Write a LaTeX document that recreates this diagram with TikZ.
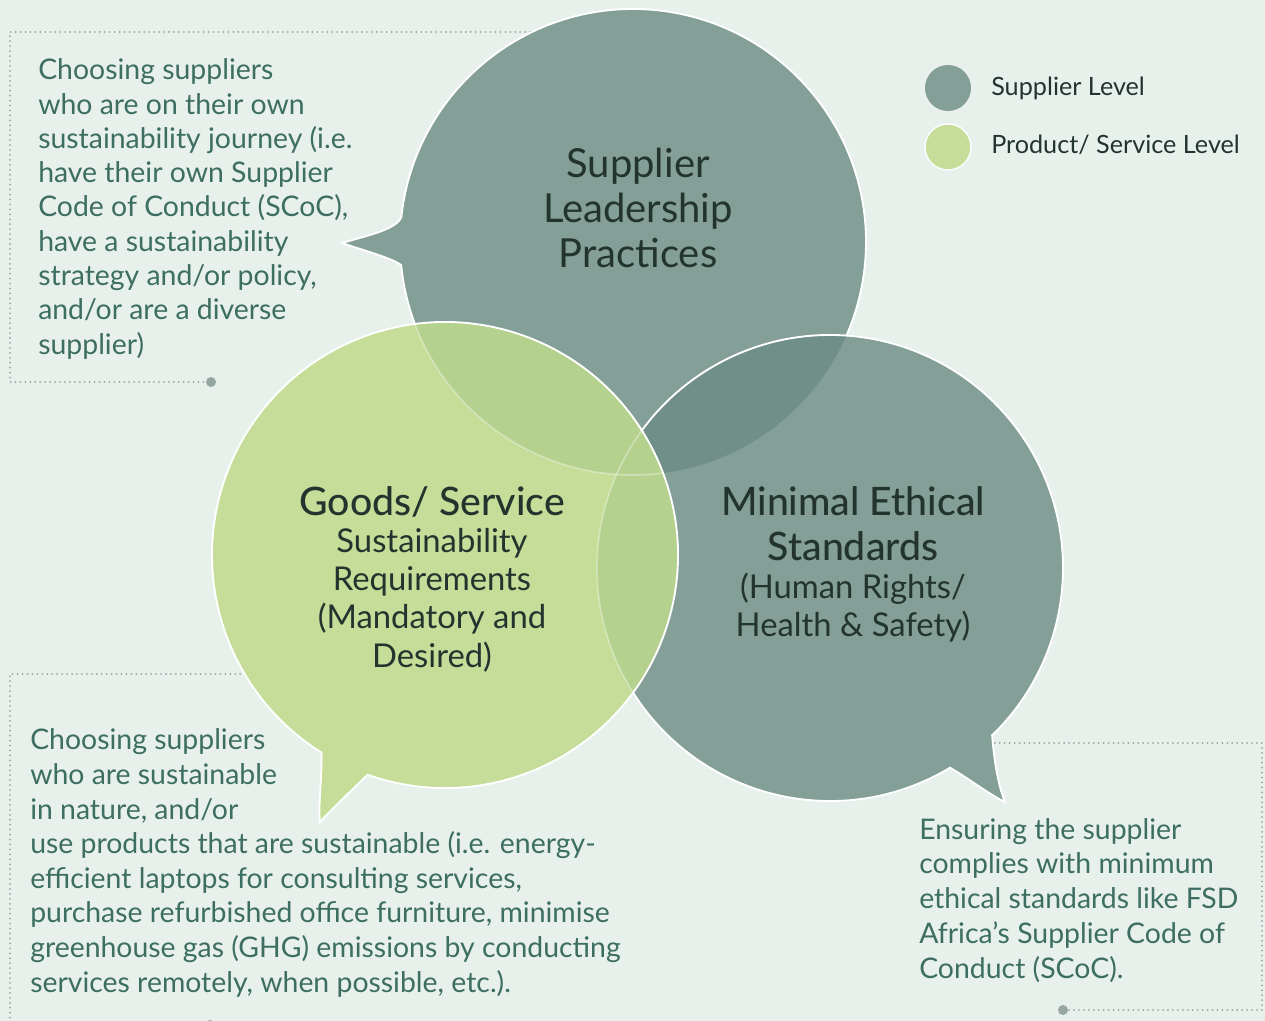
\documentclass[tikz,border=0pt]{standalone}
\usepackage{fontspec}
\setmainfont{Lato}
\newfontfamily\medfont{Lato Medium}
\definecolor{bgc}{RGB}{232,240,235}
\definecolor{supc}{RGB}{132,159,151}
\definecolor{supd}{RGB}{112,143,136}
\definecolor{grc}{RGB}{197,221,152}
\definecolor{grd}{RGB}{181,209,142}
\definecolor{tealtext}{RGB}{61,110,98}
\definecolor{darktext}{RGB}{35,52,47}
\definecolor{dotc}{RGB}{150,166,160}
\tikzset{
  desc/.style={anchor=base west,align=left,inner sep=0pt,text=tealtext,font=\fontsize{21.3}{#1}\selectfont},
  titletxt/.style={anchor=base,align=center,inner sep=0pt,text=darktext,font=\medfont\fontsize{29.4}{#1}\selectfont},
  toptitle/.style={anchor=base,align=center,inner sep=0pt,text=darktext,font=\fontsize{30}{33.4}\selectfont},
  subtxt/.style={anchor=base,align=center,inner sep=0pt,text=darktext,font=\fontsize{24.6}{#1}\selectfont},
  legtxt/.style={anchor=base west,inner sep=0pt,text=darktext,font=\fontsize{18.9}{22}\selectfont},
  legdot/.style={circle,inner sep=0pt,minimum size=34.5pt,fill=#1},
  dotnode/.style={circle,inner sep=0pt,minimum size=7.5pt,fill=dotc},
  dotline/.style={draw=dotc,line width=1.5pt,dash pattern=on 0.01pt off 3.7pt,line cap=round},
  outline/.style={draw=white,line width=1.4pt},
}
\begin{document}
\begin{tikzpicture}[x=0.75pt,y=-0.75pt]
\useasboundingbox (0,0) rectangle (1265,1021);
\fill[bgc] (0,0) rectangle (1265,1021);

% dotted frames
\node[dotnode] (d1) at (211,382) {};
\node[dotnode] (d2) at (210,1025) {};
\node[dotnode] (d3) at (1063,1010) {};
\draw[dotline] (540,32) -- (10,32) -- (10,382) -- (d1.center);
\draw[dotline] (260,674) -- (10,674) -- (10,1025) -- (d2.center);
\draw[dotline] (975,743) -- (1262,743) -- (1262,1010) -- (d3.center);

% top bubble
\fill[supc] ([shift={(633,242)}]186.1:233) coordinate (tu)
  arc[start angle=186.1,end angle=534.3,radius=233] coordinate (tl)
  .. controls (392,258) and (362,250) .. (342,243)
  .. controls (365,236) and (396,230) .. (tu) -- cycle;
\draw[outline] (tu)
  arc[start angle=186.1,end angle=534.3,radius=233]
  .. controls (392,258) and (362,250) .. (342,243)
  .. controls (365,236) and (396,230) .. (tu) -- cycle;

% right bubble
\fill[supc] ([shift={(830,568)}]59:233) coordinate (rl)
  arc[start angle=59,end angle=405.9,radius=233] coordinate (ru)
  .. controls (994,760) and (998,785) .. (1005,802)
  .. controls (990,795) and (968,778) .. (rl) -- cycle;
\begin{scope}
  \clip (633,242) circle[radius=233];
  \fill[supd] (830,568) circle[radius=233];
\end{scope}
\draw[outline] (rl)
  arc[start angle=59,end angle=405.9,radius=233]
  .. controls (994,760) and (998,785) .. (1005,802)
  .. controls (990,795) and (968,778) .. (rl) -- cycle;

% green bubble
\fill[grc] ([shift={(445,555)}]109.4:233) coordinate (gr)
  arc[start angle=109.4,end angle=-238,radius=233] coordinate (gl)
  .. controls (322,780) and (318,805) .. (320,822)
  .. controls (335,806) and (352,790) .. (gr) -- cycle;
\begin{scope}
  \clip (445,555) circle[radius=233];
  \fill[grd] (633,242) circle[radius=233];
  \fill[grd] (830,568) circle[radius=233];
  \draw[white,opacity=0.35,line width=1.2pt] (633,242) circle[radius=233];
  \draw[white,opacity=0.35,line width=1.2pt] (830,568) circle[radius=233];
\end{scope}
\draw[outline] (gr)
  arc[start angle=109.4,end angle=-238,radius=233]
  .. controls (322,780) and (318,805) .. (320,822)
  .. controls (335,806) and (352,790) .. (gr) -- cycle;

% legend
\node[legdot=supc] (l1) at (948,88) {};
\node[legdot=grc,draw=white,line width=1pt] (l2) at (948,147) {};
\node[legtxt] (lt1) at (991,95) {Supplier Level};
\node[legtxt] (lt2) at (991,153) {Product/ Service Level};

% circle titles (anchor base = last line)
\node[toptitle] (t1) at (638,267) {Supplier\\Leadership\\Practices};
\node[titletxt=33] (t2) at (432,515) {Goods/ Service};
\node[subtxt=28.7] (s2) at (432,667) {Sustainability\\Requirements\\(Mandatory and\\Desired)};
\node[titletxt=33.75] (t3) at (853,560) {Minimal Ethical\\Standards};
\node[subtxt=28.3] (s3) at (853,636) {(Human Rights/\\Health \& Safety)};

% descriptions (anchor base = last line)
\node[desc=25.7] (c1) at (38,354) {Choosing suppliers\\who are on their own\\sustainability journey (i.e.\\have their own Supplier\\Code of Conduct (SCoC),\\have a sustainability\\strategy and/or policy,\\and/or are a diverse\\supplier)};
\node[desc=25.95] (c2) at (30,992) {Choosing suppliers\\who are sustainable\\in nature, and/or\\use products that are sustainable (i.e. energy-\\efficient laptops for consulting services,\\purchase refurbished office furniture, minimise\\greenhouse gas (GHG) emissions by conducting\\services remotely, when possible, etc.).};
\node[desc=26.05] (c3) at (919,978) {Ensuring the supplier\\complies with minimum\\ethical standards like FSD\\Africa’s Supplier Code of\\Conduct (SCoC).};
\end{tikzpicture}
\end{document}
